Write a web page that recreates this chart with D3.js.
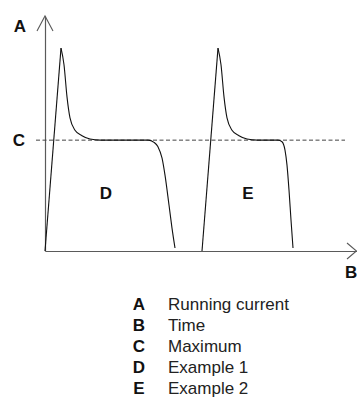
<!DOCTYPE html>
<html>
<head>
<meta charset="utf-8">
<script src="https://cdn.jsdelivr.net/npm/d3@7"></script>
<style>
  html, body { margin: 0; padding: 0; background: #fff; }
  svg { display: block; }
  text { font-family: "Liberation Sans", Arial, sans-serif; }
</style>
</head>
<body>
<svg id="chart" width="357" height="398"></svg>
<script>
// Running current over time, two start-up examples (current in % of maximum)
const example1Time    = [0, 16, 19, 22, 25, 30, 37, 45, 55, 103, 109, 113, 117, 120, 124, 127, 130];
const example1Current = [0, 183, 168, 139, 120, 109, 104, 101, 100, 100, 98, 94, 84, 68.5, 41.5, 20.7, 2.7];
const example2Time    = [157, 173, 176, 179, 182, 187, 194, 202, 212, 233, 237, 240, 242, 244, 246, 248];
const example2Current = [0, 183, 168, 139, 120, 109, 104, 101, 100, 100, 98.6, 91, 77.5, 55, 28, 2.7];
const maximumCurrent = 100;
const maximumSpan = [-9, 300];

const axisLetters = { y: "A", x: "B", max: "C" };
const regionLetters = ["D", "E"];
const regionTimes = [61, 203];
const regionCurrent = 52;
const legendKeys  = ["A", "B", "C", "D", "E"];
const legendTexts = ["Running current", "Time", "Maximum", "Example 1", "Example 2"];

const svg = d3.select("#chart");
const x = d3.scaleLinear().domain([0, 312]).range([45, 357]);
const y = d3.scaleLinear().domain([0, 212]).range([251, 16]);

const font = "Liberation Sans, Arial, sans-serif";
const axisColor = "#5a5a5a";

// Axes without ticks
svg.append("g").attr("transform", `translate(${x(0)},0)`)
  .call(d3.axisLeft(y).tickValues([]).tickSizeOuter(0))
  .call(g => g.select(".domain").attr("stroke", axisColor).attr("stroke-width", 1.2));
svg.append("g").attr("transform", `translate(0,${y(0)})`)
  .call(d3.axisBottom(x).tickValues([]).tickSizeOuter(0))
  .call(g => g.select(".domain").attr("stroke", axisColor).attr("stroke-width", 1.2));

// Open arrowheads at the axis ends
const yTop = y.range()[1], xEnd = x.range()[1];
svg.append("path")
  .attr("d", `M${x(0) - 8},${yTop + 15} L${x(0)},${yTop} L${x(0) + 8},${yTop + 15}`)
  .attr("fill", "none").attr("stroke", axisColor).attr("stroke-width", 1.1);
svg.append("path")
  .attr("d", `M${xEnd - 10},${y(0) - 8} L${xEnd - 0.5},${y(0)} L${xEnd - 10},${y(0) + 8}`)
  .attr("fill", "none").attr("stroke", axisColor).attr("stroke-width", 1.1);

// Maximum current reference line
svg.append("line")
  .attr("x1", x(maximumSpan[0])).attr("x2", x(maximumSpan[1]))
  .attr("y1", y(maximumCurrent)).attr("y2", y(maximumCurrent))
  .attr("stroke", "#444").attr("stroke-width", 1)
  .attr("stroke-dasharray", "4,2.5");

// Current curves: straight rise to the peak, smooth decay and fall-off
const smooth = d3.line().x(d => x(d[0])).y(d => y(d[1])).curve(d3.curveMonotoneX);
const straight = d3.line().x(d => x(d[0])).y(d => y(d[1]));
function drawExample(times, currents) {
  const pts = times.map((t, i) => [t, currents[i]]);
  svg.append("path").attr("d", straight(pts.slice(0, 2)))
    .attr("fill", "none").attr("stroke", "#111").attr("stroke-width", 1.1);
  svg.append("path").attr("d", smooth(pts.slice(1)))
    .attr("fill", "none").attr("stroke", "#111").attr("stroke-width", 1.1);
}
drawExample(example1Time, example1Current);
drawExample(example2Time, example2Current);

// Letters on the chart
const letter = (txt, px, py, anchor) => svg.append("text")
  .attr("x", px).attr("y", py).attr("text-anchor", anchor || "start")
  .attr("font-family", font).attr("font-weight", "bold").attr("font-size", 17)
  .attr("fill", "#111").text(txt);
letter(axisLetters.y, 20, 32, "middle");
letter(axisLetters.x, 345, 278);
letter(axisLetters.max, 19, y(maximumCurrent) + 6, "middle");
regionLetters.forEach((t, i) => letter(t, x(regionTimes[i]), y(regionCurrent) + 6, "middle"));

// Legend
const legend = svg.append("g");
legendKeys.forEach((k, i) => {
  const by = 310 + i * 21;
  legend.append("text").attr("x", 139).attr("y", by).attr("text-anchor", "middle")
    .attr("font-family", font).attr("font-weight", "bold").attr("font-size", 17)
    .attr("fill", "#111").text(k);
  legend.append("text").attr("x", 168).attr("y", by)
    .attr("font-family", font).attr("font-size", 17)
    .attr("fill", "#222").text(legendTexts[i]);
});
</script>
</body>
</html>
